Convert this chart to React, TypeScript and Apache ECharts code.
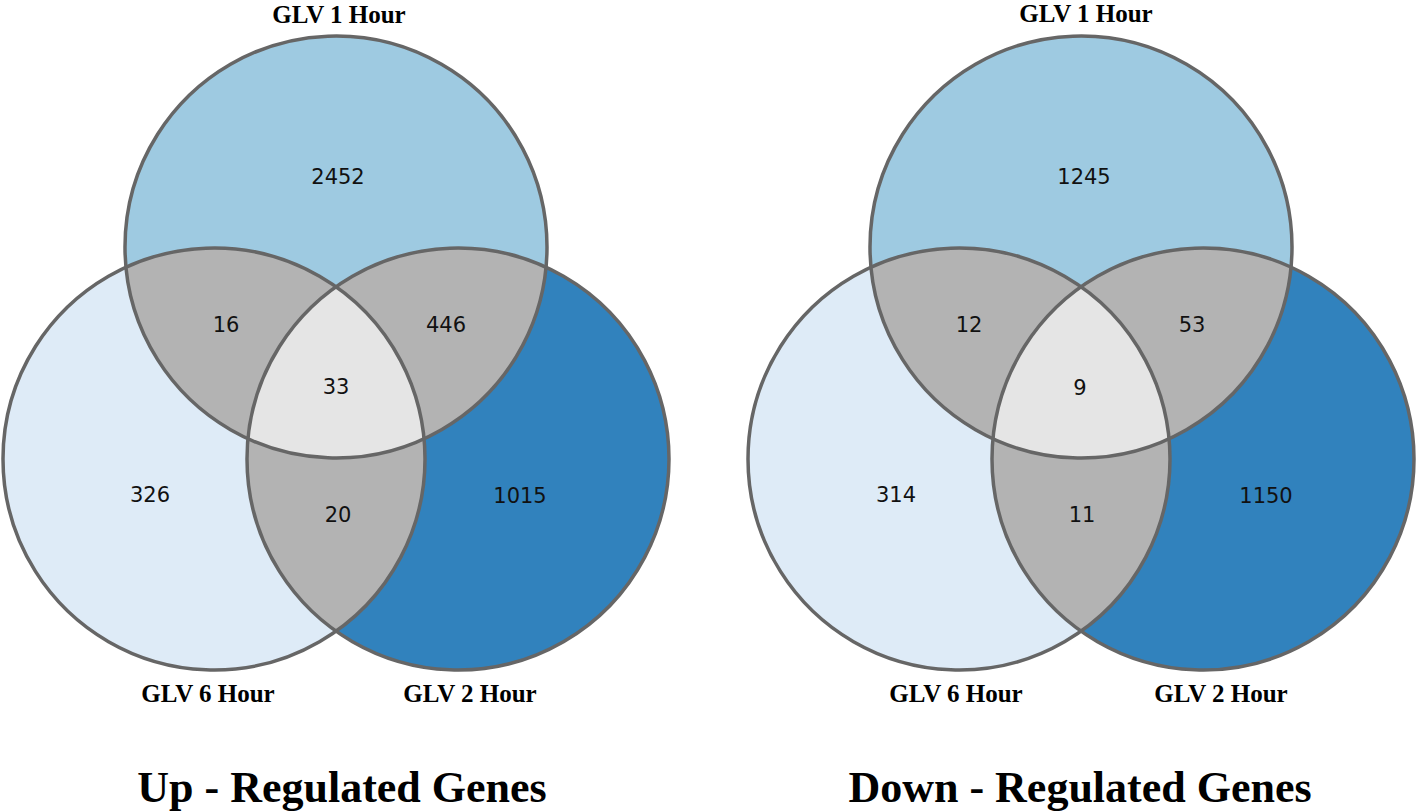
import React, { useEffect, useRef } from "react";
import * as echarts from "echarts";

// ---- data ----
const SET_NAMES = ["GLV 1 Hour", "GLV 6 Hour", "GLV 2 Hour"]; // A, B, C
const REGION_KEYS = ["A", "B", "C", "AB", "AC", "BC", "ABC"];
const UP_COUNTS = [2452, 326, 1015, 16, 446, 20, 33];
const DOWN_COUNTS = [1245, 314, 1150, 12, 53, 11, 9];
const PANEL_TITLES = ["Up - Regulated Genes", "Down - Regulated Genes"];

// ---- styles ----
const REGION_COLORS = ["#9ecae1", "#deebf7", "#3182bd", "#b3b3b3", "#b3b3b3", "#b3b3b3", "#e5e5e5"];
const OUTLINE = "#666666";

// ---- layout (pixel coordinates in the 1418x811 frame) ----
const PANELS = [
  {
    centers: [[336, 247], [214, 459], [458, 459]],
    r: 211,
    setLabelPos: [[339, 14], [208, 693], [470, 693]],
    titlePos: [342, 787],
    labelPos: [[338, 177], [150, 495], [520, 496], [226, 325], [446, 325], [338, 515], [336, 387]],
  },
  {
    centers: [[1081, 247], [959, 459], [1203, 459]],
    r: 211,
    setLabelPos: [[1086, 13], [956, 693], [1221, 693]],
    titlePos: [1080, 787],
    labelPos: [[1084, 177], [896, 495], [1266, 496], [969, 325], [1192, 325], [1082, 515], [1080, 388]],
  },
];

const N = 360;

function circlePoly(c: number[], r: number): number[][] {
  const pts: number[][] = [];
  for (let k = 0; k < N; k++) {
    const t = (k / N) * Math.PI * 2;
    pts.push([c[0] + r * Math.cos(t), c[1] + r * Math.sin(t)]);
  }
  return pts;
}

function signedArea(p: number[][]): number {
  let a = 0;
  for (let i = 0; i < p.length; i++) {
    const q = p[i], s = p[(i + 1) % p.length];
    a += q[0] * s[1] - s[0] * q[1];
  }
  return a / 2;
}

function clip(subject: number[][], clipPoly: number[][]): number[][] {
  const sgn = signedArea(clipPoly) > 0 ? 1 : -1;
  let out = subject;
  for (let i = 0; i < clipPoly.length; i++) {
    const a = clipPoly[i], b = clipPoly[(i + 1) % clipPoly.length];
    const side = (p: number[]) => (b[0] - a[0]) * (p[1] - a[1]) - (b[1] - a[1]) * (p[0] - a[0]);
    const inside = (p: number[]) => side(p) * sgn >= 0;
    const inter = (p: number[], q: number[]) => {
      const d1 = side(p);
      const d2 = side(q);
      const t = d1 / (d1 - d2);
      return [p[0] + (q[0] - p[0]) * t, p[1] + (q[1] - p[1]) * t];
    };
    const input = out;
    out = [];
    if (!input.length) break;
    for (let j = 0; j < input.length; j++) {
      const cur = input[j];
      const prev = input[(j + input.length - 1) % input.length];
      const ci = inside(cur), pi = inside(prev);
      if (ci) {
        if (!pi) out.push(inter(prev, cur));
        out.push(cur);
      } else if (pi) {
        out.push(inter(prev, cur));
      }
    }
  }
  return out;
}

function makeSeries(panelIdx: number, counts: number[]) {
  const panel = PANELS[panelIdx];
  return {
    type: "custom",
    coordinateSystem: "cartesian2d",
    silent: true,
    data: counts.map((v, i) => [i, v]),
    renderItem: (params: any, api: any) => {
      const i = params.dataIndex;
      const centers = panel.centers.map((pt) => api.coord(pt));
      const r = Math.abs(api.size([panel.r, 0])[0]);
      const sets = REGION_KEYS[i].split("").map((ch) => "ABC".indexOf(ch));
      let poly = circlePoly(centers[sets[0]], r);
      for (let k = 1; k < sets.length; k++) poly = clip(poly, circlePoly(centers[sets[k]], r));
      const lp = api.coord(panel.labelPos[i]);
      const children: any[] = [
        {
          type: "polygon",
          shape: { points: poly },
          style: { fill: REGION_COLORS[i], stroke: null },
          z2: i + 1,
        },
        {
          type: "text",
          x: lp[0],
          y: lp[1],
          style: {
            text: String(api.value(1)),
            fill: "#111111",
            font: '21px "DejaVu Sans"',
            align: "center",
            verticalAlign: "middle",
          },
          z2: 40,
        },
      ];
      if (i < 3) {
        const c = centers[i];
        children.push({
          type: "circle",
          shape: { cx: c[0], cy: c[1], r },
          style: { fill: "none", stroke: OUTLINE, lineWidth: 3.5 },
          z2: 30,
        });
        const sp = api.coord(panel.setLabelPos[i]);
        children.push({
          type: "text",
          x: sp[0],
          y: sp[1],
          style: {
            text: SET_NAMES[i],
            fill: "#000000",
            font: 'bold 25px "Liberation Serif"',
            align: "center",
            verticalAlign: "middle",
          },
          z2: 40,
        });
      }
      if (i === 0) {
        const tp = api.coord(panel.titlePos);
        children.push({
          type: "text",
          x: tp[0],
          y: tp[1],
          style: {
            text: PANEL_TITLES[panelIdx],
            fill: "#000000",
            font: 'bold 44px "Liberation Serif"',
            align: "center",
            verticalAlign: "middle",
          },
          z2: 40,
        });
      }
      return { type: "group", children };
    },
  };
}

export default function App() {
  const ref = useRef<HTMLDivElement>(null);
  useEffect(() => {
    if (!ref.current) return;
    const chart = echarts.init(ref.current, undefined, { renderer: "svg" });
    chart.setOption({
      animation: false,
      backgroundColor: "#ffffff",
      grid: { left: 0, right: 0, top: 0, bottom: 0 },
      xAxis: { type: "value", min: 0, max: 1418, show: false },
      yAxis: { type: "value", min: 0, max: 811, inverse: true, show: false },
      series: [makeSeries(0, UP_COUNTS), makeSeries(1, DOWN_COUNTS)],
    });
    return () => chart.dispose();
  }, []);
  return (
    <div
      ref={ref}
      style={{ position: "absolute", left: 0, top: 0, width: 1418, height: 811, background: "#fff" }}
    />
  );
}
